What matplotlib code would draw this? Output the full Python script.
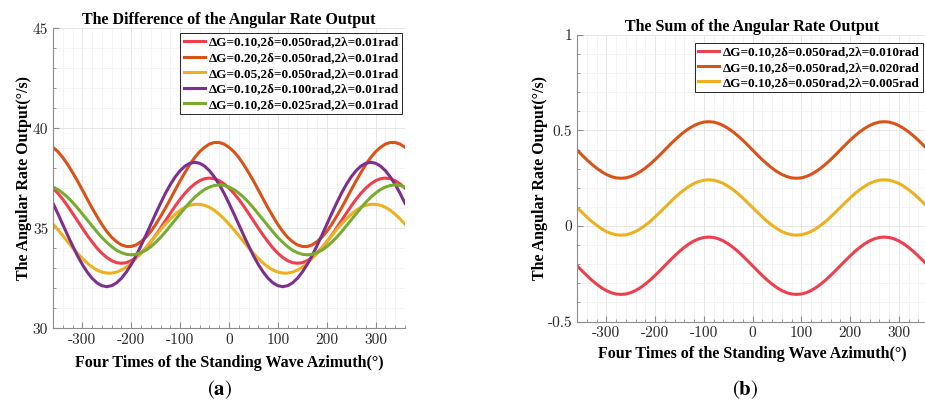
import matplotlib
matplotlib.use("Agg")
import matplotlib.pyplot as plt
from matplotlib.ticker import MultipleLocator

plt.rcParams['axes.unicode_minus'] = False
plt.rcParams['mathtext.fontset'] = 'stix'

# x samples (four times the standing wave azimuth, deg)
azimuth = list(range(-360, 361, 10))

# (a) difference of the angular rate output (deg/s)
diff_labels = ['ΔG=0.10,2δ=0.050rad,2λ=0.01rad',
               'ΔG=0.20,2δ=0.050rad,2λ=0.01rad',
               'ΔG=0.05,2δ=0.050rad,2λ=0.01rad',
               'ΔG=0.10,2δ=0.100rad,2λ=0.01rad',
               'ΔG=0.10,2δ=0.025rad,2λ=0.01rad']
diff_red = [37.01, 36.75, 36.45, 36.11, 35.75, 35.38, 35.01, 34.65, 34.32, 34.01, 33.75, 33.54,
            33.38, 33.28, 33.25, 33.28, 33.38, 33.54, 33.75, 34.01, 34.32, 34.65, 35.01, 35.38,
            35.75, 36.11, 36.45, 36.75, 37.01, 37.22, 37.38, 37.48, 37.51, 37.48, 37.38, 37.22,
            37.01, 36.75, 36.45, 36.11, 35.75, 35.38, 35.01, 34.65, 34.32, 34.01, 33.75, 33.54,
            33.38, 33.28, 33.25, 33.28, 33.38, 33.54, 33.75, 34.01, 34.32, 34.65, 35.01, 35.38,
            35.75, 36.11, 36.45, 36.75, 37.01, 37.22, 37.38, 37.48, 37.51, 37.48, 37.38, 37.22,
            37.01]
diff_orange = [39.05, 38.83, 38.54, 38.19, 37.79, 37.37, 36.92, 36.46, 36.01, 35.59, 35.19, 34.84,
               34.55, 34.33, 34.17, 34.09, 34.09, 34.17, 34.33, 34.55, 34.84, 35.19, 35.59, 36.01,
               36.46, 36.92, 37.37, 37.79, 38.19, 38.54, 38.83, 39.05, 39.21, 39.29, 39.29, 39.21,
               39.05, 38.83, 38.54, 38.19, 37.79, 37.37, 36.92, 36.46, 36.01, 35.59, 35.19, 34.84,
               34.55, 34.33, 34.17, 34.09, 34.09, 34.17, 34.33, 34.55, 34.84, 35.19, 35.59, 36.01,
               36.46, 36.92, 37.37, 37.79, 38.19, 38.54, 38.83, 39.05, 39.21, 39.29, 39.29, 39.21,
               39.05]
diff_yellow = [35.21, 34.93, 34.63, 34.33, 34.03, 33.75, 33.49, 33.26, 33.06, 32.91, 32.81, 32.76,
               32.76, 32.81, 32.91, 33.06, 33.26, 33.49, 33.75, 34.03, 34.33, 34.63, 34.93, 35.21,
               35.47, 35.70, 35.90, 36.05, 36.15, 36.20, 36.20, 36.15, 36.05, 35.90, 35.70, 35.47,
               35.21, 34.93, 34.63, 34.33, 34.03, 33.75, 33.49, 33.26, 33.06, 32.91, 32.81, 32.76,
               32.76, 32.81, 32.91, 33.06, 33.26, 33.49, 33.75, 34.03, 34.33, 34.63, 34.93, 35.21,
               35.47, 35.70, 35.90, 36.05, 36.15, 36.20, 36.20, 36.15, 36.05, 35.90, 35.70, 35.47,
               35.21]
diff_purple = [36.25, 35.73, 35.19, 34.65, 34.13, 33.63, 33.19, 32.81, 32.50, 32.27, 32.13, 32.08,
               32.13, 32.27, 32.50, 32.81, 33.19, 33.63, 34.13, 34.65, 35.19, 35.73, 36.25, 36.75,
               37.19, 37.57, 37.88, 38.11, 38.25, 38.30, 38.25, 38.11, 37.88, 37.57, 37.19, 36.75,
               36.25, 35.73, 35.19, 34.65, 34.13, 33.63, 33.19, 32.81, 32.50, 32.27, 32.13, 32.08,
               32.13, 32.27, 32.50, 32.81, 33.19, 33.63, 34.13, 34.65, 35.19, 35.73, 36.25, 36.75,
               37.19, 37.57, 37.88, 38.11, 38.25, 38.30, 38.25, 38.11, 37.88, 37.57, 37.19, 36.75,
               36.25]
diff_green = [37.06, 36.94, 36.76, 36.55, 36.30, 36.02, 35.72, 35.42, 35.12, 34.82, 34.54, 34.30,
              34.08, 33.90, 33.78, 33.70, 33.67, 33.70, 33.78, 33.90, 34.08, 34.30, 34.54, 34.82,
              35.12, 35.42, 35.72, 36.02, 36.30, 36.55, 36.76, 36.94, 37.06, 37.14, 37.17, 37.14,
              37.06, 36.94, 36.76, 36.55, 36.30, 36.02, 35.72, 35.42, 35.12, 34.82, 34.54, 34.30,
              34.08, 33.90, 33.78, 33.70, 33.67, 33.70, 33.78, 33.90, 34.08, 34.30, 34.54, 34.82,
              35.12, 35.42, 35.72, 36.02, 36.30, 36.55, 36.76, 36.94, 37.06, 37.14, 37.17, 37.14,
              37.06]

# (b) sum of the angular rate output (deg/s)
sum_labels = ['ΔG=0.10,2δ=0.050rad,2λ=0.010rad',
              'ΔG=0.10,2δ=0.050rad,2λ=0.020rad',
              'ΔG=0.10,2δ=0.050rad,2λ=0.005rad']
sum_red = [-0.208, -0.234, -0.259, -0.283, -0.304, -0.323, -0.338, -0.349, -0.356, -0.358, -0.356,
           -0.349, -0.338, -0.323, -0.304, -0.283, -0.259, -0.234, -0.208, -0.182, -0.157, -0.133,
           -0.112, -0.093, -0.078, -0.067, -0.060, -0.058, -0.060, -0.067, -0.078, -0.093, -0.112,
           -0.133, -0.157, -0.182,
           -0.208, -0.234, -0.259, -0.283, -0.304, -0.323, -0.338, -0.349, -0.356, -0.358, -0.356,
           -0.349, -0.338, -0.323, -0.304, -0.283, -0.259, -0.234, -0.208, -0.182, -0.157, -0.133,
           -0.112, -0.093, -0.078, -0.067, -0.060, -0.058, -0.060, -0.067, -0.078, -0.093, -0.112,
           -0.133, -0.157, -0.182, -0.208]
sum_orange = [0.398, 0.372, 0.347, 0.324, 0.303, 0.285, 0.270, 0.259, 0.252, 0.250, 0.252, 0.259,
              0.270, 0.285, 0.303, 0.324, 0.347, 0.372, 0.398, 0.424, 0.449, 0.472, 0.493, 0.511,
              0.526, 0.537, 0.544, 0.546, 0.544, 0.537, 0.526, 0.511, 0.493, 0.472, 0.449, 0.424,
              0.398, 0.372, 0.347, 0.324, 0.303, 0.285, 0.270, 0.259, 0.252, 0.250, 0.252, 0.259,
              0.270, 0.285, 0.303, 0.324, 0.347, 0.372, 0.398, 0.424, 0.449, 0.472, 0.493, 0.511,
              0.526, 0.537, 0.544, 0.546, 0.544, 0.537, 0.526, 0.511, 0.493, 0.472, 0.449, 0.424,
              0.398]
sum_yellow = [0.097, 0.072, 0.047, 0.024, 0.004, -0.014, -0.029, -0.039, -0.046, -0.048, -0.046,
              -0.039, -0.029, -0.014, 0.004, 0.024, 0.047, 0.072, 0.097, 0.122, 0.147, 0.170, 0.190,
              0.208, 0.223, 0.233, 0.240, 0.242, 0.240, 0.233, 0.223, 0.208, 0.190, 0.170, 0.147,
              0.122,
              0.097, 0.072, 0.047, 0.024, 0.004, -0.014, -0.029, -0.039, -0.046, -0.048, -0.046,
              -0.039, -0.029, -0.014, 0.004, 0.024, 0.047, 0.072, 0.097, 0.122, 0.147, 0.170, 0.190,
              0.208, 0.223, 0.233, 0.240, 0.242, 0.240, 0.233, 0.223, 0.208, 0.190, 0.170, 0.147,
              0.122, 0.097]

x_ticks = [-300, -200, -100, 0, 100, 200, 300]
x_ticklabels = ['-300', '-200', '-100', '0', '100', '200', '300']
diff_yticks = [30, 35, 40, 45]
diff_yticklabels = ['30', '35', '40', '45']
sum_yticks = [-0.5, 0, 0.5, 1]
sum_yticklabels = ['-0.5', '0', '0.5', '1']

colors = ['#EE3F4D', '#D95319', '#EDB120', '#7E2F8E', '#77AC30']

BOLD = dict(family='Liberation Serif', weight='bold')
TICKFONT = 'cmr10'


def style_axes(ax, minor_y):
    for s in ['top', 'right']:
        ax.spines[s].set_visible(False)
    for s in ['left', 'bottom']:
        ax.spines[s].set_color('#8c8c8c')
        ax.spines[s].set_linewidth(0.8)
    ax.xaxis.set_minor_locator(MultipleLocator(20))
    ax.yaxis.set_minor_locator(MultipleLocator(minor_y))
    ax.tick_params(which='both', direction='in', colors='#8c8c8c', labelcolor='#262626',
                   labelsize=11, top=False, right=False)
    ax.tick_params(which='major', length=4)
    ax.tick_params(which='minor', length=2)
    ax.grid(True, which='major', color='#e3e3e3', lw=0.6)
    ax.grid(True, which='minor', color='#f0f0f0', lw=0.5)
    ax.set_axisbelow(True)
    for lab in ax.get_xticklabels() + ax.get_yticklabels():
        lab.set_fontfamily(TICKFONT)


fig = plt.figure(figsize=(9.25, 4.03), dpi=100)

# ---- (a)
ax1 = fig.add_axes([0.0573, 0.1854, 0.3805, 0.7444])
for vals, c, lab in zip([diff_red, diff_orange, diff_yellow, diff_purple, diff_green], colors, diff_labels):
    ax1.plot(azimuth, vals, color=c, lw=2.2, label=lab, solid_joinstyle='round')
ax1.set_xlim(-360, 360)
ax1.set_ylim(30, 45)
ax1.set_xticks(x_ticks)
ax1.set_xticklabels(x_ticklabels)
ax1.set_yticks(diff_yticks)
ax1.set_yticklabels(diff_yticklabels)
style_axes(ax1, 1)
ax1.set_title('The Difference of the Angular Rate Output', fontsize=11.5, pad=3, **BOLD)
ax1.set_xlabel('Four Times of the Standing Wave Azimuth(°)', fontsize=11.5, labelpad=6, **BOLD)
ax1.set_ylabel('The Angular Rate Output(°/s)', fontsize=11.5, labelpad=0.5, **BOLD)
leg1 = ax1.legend(loc='upper right', bbox_to_anchor=(0.992, 0.984), prop=dict(size=9.5, **BOLD),
                  frameon=True, fancybox=False, edgecolor='#262626', framealpha=1,
                  handlelength=1.6, handletextpad=0.3, labelspacing=0.25, borderpad=0.25,
                  borderaxespad=0)
leg1.get_frame().set_linewidth(0.7)

# ---- (b)
ax2 = fig.add_axes([0.6238, 0.2022, 0.3795, 0.7110])
for vals, c, lab in zip([sum_red, sum_orange, sum_yellow], colors[:3], sum_labels):
    ax2.plot(azimuth, vals, color=c, lw=2.2, label=lab, solid_joinstyle='round')
ax2.set_xlim(-360, 360)
ax2.set_ylim(-0.5, 1)
ax2.set_xticks(x_ticks)
ax2.set_xticklabels(x_ticklabels)
ax2.set_yticks(sum_yticks)
ax2.set_yticklabels(sum_yticklabels)
style_axes(ax2, 0.1)
ax2.set_title('The Sum of the Angular Rate Output', fontsize=11.5, pad=3, **BOLD)
ax2.set_xlabel('Four Times of the Standing Wave Azimuth(°)', fontsize=11.5, labelpad=4, **BOLD)
ax2.set_ylabel('The Angular Rate Output(°/s)', fontsize=11.5, labelpad=0, **BOLD)
leg2 = ax2.legend(loc='upper right', bbox_to_anchor=(0.986, 0.972), prop=dict(size=9.5, **BOLD),
                  frameon=True, fancybox=False, edgecolor='#262626', framealpha=1,
                  handlelength=1.6, handletextpad=0.3, labelspacing=0.22, borderpad=0.25,
                  borderaxespad=0)
leg2.get_frame().set_linewidth(0.7)

# panel letters
fig.text(220 / 925, 1 - 390 / 403, r'($\mathbf{a}$)', ha='center', va='center', fontsize=15,
         family='STIXGeneral')
fig.text(745 / 925, 1 - 390 / 403, r'($\mathbf{b}$)', ha='center', va='center', fontsize=15,
         family='STIXGeneral')

fig.savefig('out.png', dpi=100)
